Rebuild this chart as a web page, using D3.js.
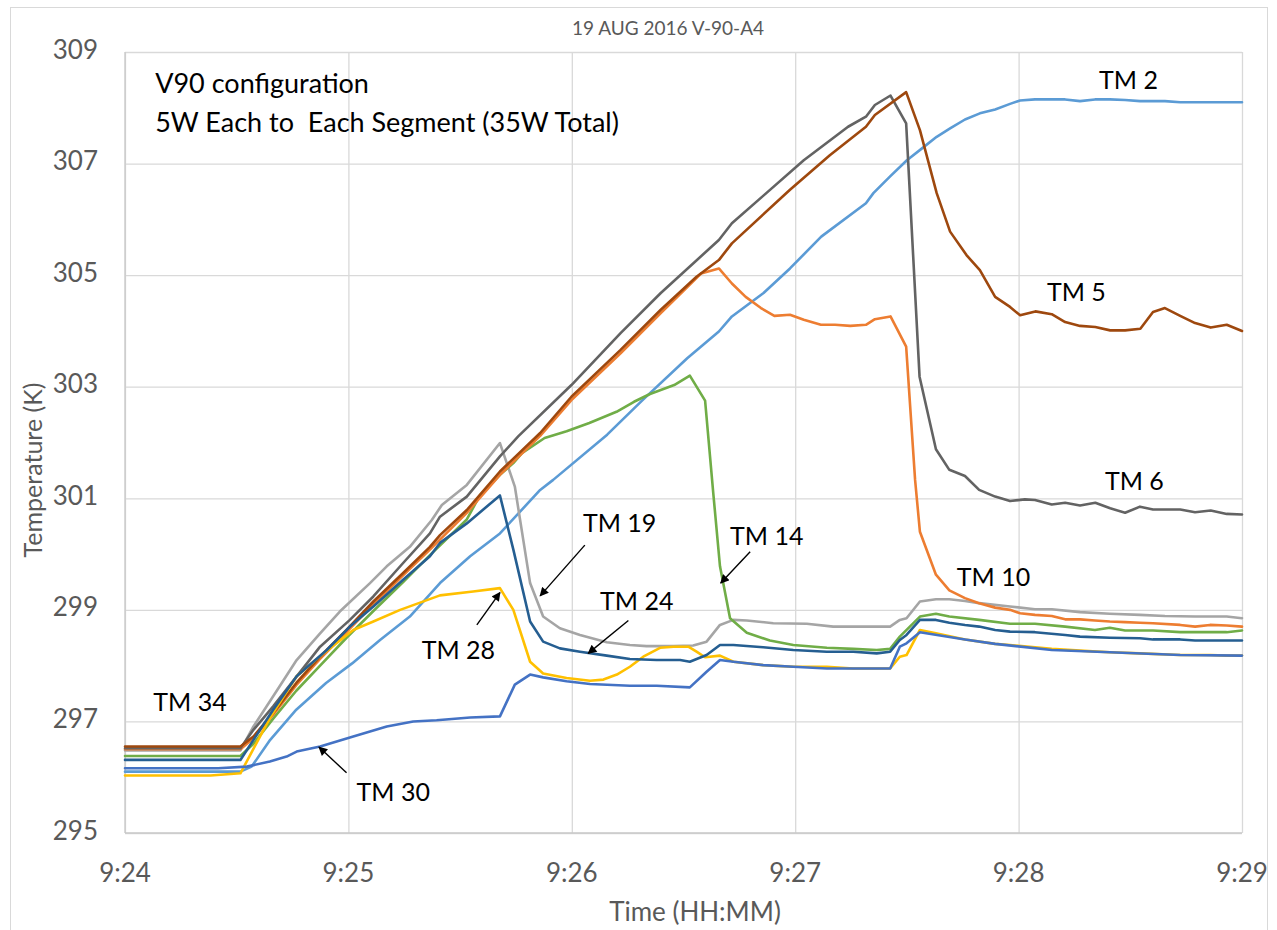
<!DOCTYPE html>
<html>
<head>
<meta charset="utf-8">
<script src="https://cdn.jsdelivr.net/npm/d3@7/dist/d3.min.js"></script>
<style>
  html, body { margin: 0; padding: 0; background: #ffffff; }
  svg { display: block; }
  text { font-family: Lato, "Open Sans", sans-serif; }
</style>
</head>
<body>
<svg id="chart" width="1277" height="930"></svg>
<script>
// ---------- data (time in seconds after 9:24:00, temperature in K) ----------
const chartTitle = "19 AUG 2016 V-90-A4";
const xAxisTitle = "Time (HH:MM)";
const yAxisTitle = "Temperature (K)";
const noteLines = ["V90 configuration", "5W Each to  Each Segment (35W Total)"];
const timeTickSeconds = [0, 60, 120, 180, 240, 300];
const timeTickLabels = ["9:24", "9:25", "9:26", "9:27", "9:28", "9:29"];
const tempTicks = [295, 297, 299, 301, 303, 305, 307, 309];

const seriesNames = ["TM 2", "TM 19", "TM 14", "TM 10", "TM 6", "TM 5", "TM 28", "TM 24", "TM 30"];
const seriesColors = ["#5B9BD5", "#A5A5A5", "#70AD47", "#ED7D31", "#636363", "#9E480E", "#FFC000", "#255E91", "#4472C4"];

const tm2 = [[0,296.10],[31,296.10],[34,296.19],[39,296.67],[46,297.21],[54,297.69],[61,298.04],[68.5,298.46],[76.5,298.88],[84.6,299.48],[92.7,299.96],[100.7,300.37],[111.5,301.15],[115,301.33],[129.5,302.14],[139,302.76],[151,303.51],[159.5,303.99],[163,304.26],[171.5,304.68],[178.6,305.12],[187,305.69],[199,306.29],[201,306.47],[205.5,306.77],[210,307.06],[214.4,307.29],[218,307.48],[221.6,307.63],[225.6,307.79],[229.6,307.90],[233.7,307.97],[237.7,308.07],[240.4,308.13],[244.4,308.15],[249,308.15],[252.5,308.15],[256.5,308.12],[260.5,308.15],[264.5,308.15],[268.6,308.14],[272.6,308.12],[276,308.12],[279.3,308.12],[283.4,308.10],[287.4,308.10],[291.4,308.10],[296,308.10],[300,308.10]];

const tm5 = [[0,296.55],[31,296.55],[34.5,296.73],[39.8,297.15],[46,297.69],[52.4,298.16],[59.5,298.64],[66.7,299.15],[74.7,299.66],[81.9,300.13],[84.6,300.34],[91.8,300.79],[100.7,301.48],[111.5,302.17],[119.9,302.82],[133.1,303.66],[143.9,304.38],[153.5,304.97],[159.5,305.27],[163,305.57],[178.6,306.53],[189.3,307.15],[199,307.66],[201.4,307.87],[209.8,308.28],[213.5,307.60],[218,306.47],[221.6,305.78],[226,305.36],[229.6,305.09],[233.7,304.61],[237.7,304.43],[240.4,304.28],[244.5,304.35],[248.9,304.30],[252.5,304.16],[256.5,304.09],[260.6,304.07],[264.6,304.01],[268.6,304.01],[272.7,304.04],[276.1,304.34],[279.3,304.41],[283.4,304.27],[287.4,304.14],[291.6,304.06],[295.9,304.11],[300,304.00]];

const tm6 = [[0,296.52],[31,296.52],[34.5,296.85],[39.8,297.27],[52.4,298.34],[60.4,298.82],[66.7,299.24],[74.7,299.84],[81.9,300.37],[84.6,300.67],[91.8,301.03],[100.7,301.75],[105.6,302.11],[119.9,303.03],[133.1,303.96],[143.9,304.68],[159.5,305.63],[163,305.93],[182.3,307.06],[194.2,307.66],[199,307.84],[201.4,308.05],[205.6,308.22],[209.8,307.72],[213.4,303.18],[217.8,301.88],[221.4,301.51],[225.6,301.40],[229.4,301.15],[233.7,301.03],[237.7,300.95],[241.7,300.98],[244.4,300.97],[248.9,300.89],[252.5,300.92],[256.5,300.87],[260.6,300.92],[264.6,300.82],[268.6,300.74],[272.6,300.85],[276.1,300.80],[283.4,300.80],[287.4,300.75],[291.6,300.78],[295.9,300.72],[300,300.71]];

const tm10 = [[0,296.50],[31,296.50],[34.5,296.70],[39.8,297.12],[46,297.65],[52.4,298.12],[59.5,298.60],[66.7,299.10],[74.7,299.62],[81.9,300.08],[91.8,300.74],[100.7,301.42],[111.5,302.12],[119.9,302.76],[133.1,303.60],[143.9,304.32],[150,304.72],[154.7,305.03],[159.5,305.12],[163,304.85],[166.7,304.61],[170.8,304.41],[174.4,304.27],[178.6,304.29],[182.3,304.20],[186.9,304.11],[190.7,304.11],[194.8,304.09],[199,304.11],[201.4,304.21],[205.6,304.26],[209.8,303.72],[212.2,301.33],[213.5,300.40],[217.8,299.63],[221.4,299.35],[225.6,299.21],[229.4,299.12],[233.7,299.04],[237.7,299.00],[240.4,298.94],[244.4,298.91],[248.9,298.89],[252.5,298.83],[256.5,298.83],[260.5,298.81],[264.5,298.79],[268.6,298.78],[272.6,298.77],[276.1,298.76],[283.4,298.73],[287.4,298.70],[291.4,298.73],[295.9,298.72],[300,298.70]];

const tm14 = [[0,296.38],[31,296.38],[34.5,296.60],[39.8,297.05],[46,297.55],[52.4,298.00],[59.5,298.50],[66.7,298.98],[74.7,299.50],[81.9,299.98],[91.8,300.62],[95.3,301.05],[100.7,301.42],[104.3,301.63],[106.6,301.81],[112.7,302.08],[118.6,302.20],[124.7,302.35],[132,302.55],[136.7,302.73],[141,302.87],[147.5,303.03],[151.7,303.20],[155.8,302.75],[158,301.09],[159.8,299.78],[162.5,298.85],[167,298.59],[173.2,298.45],[179.5,298.37],[188.5,298.32],[195.6,298.30],[201.9,298.28],[205.5,298.30],[208.1,298.52],[213.5,298.88],[217.8,298.93],[221.4,298.88],[229.4,298.82],[237.7,298.75],[244.4,298.75],[252.5,298.70],[260.5,298.64],[264.5,298.68],[268.6,298.63],[276.1,298.63],[283.4,298.60],[291.4,298.60],[295.9,298.60],[300,298.63]];

const tm19 = [[0,296.48],[31,296.48],[34.5,296.91],[39.8,297.45],[46.1,298.10],[52.4,298.58],[57.7,298.97],[65.8,299.48],[70.3,299.78],[76.5,300.13],[82.4,300.61],[85.1,300.88],[91.8,301.24],[100.7,301.99],[104.7,301.21],[108.8,299.48],[112.3,298.88],[116.8,298.67],[122.2,298.55],[129.4,298.42],[135.6,298.37],[140.1,298.35],[147.3,298.35],[152.6,298.36],[156.2,298.43],[159.8,298.73],[163.4,298.82],[167,298.81],[174.1,298.76],[183.1,298.75],[190.2,298.70],[195.6,298.70],[205.5,298.70],[208.1,298.82],[209.9,298.85],[213.5,299.15],[217.8,299.19],[221.4,299.19],[225.6,299.16],[229.4,299.12],[237.7,299.06],[244.4,299.01],[248.9,299.01],[256.5,298.96],[264.5,298.93],[272.6,298.91],[279.3,298.89],[287.4,298.88],[295.9,298.88],[300,298.85]];

const tm24 = [[0,296.31],[31,296.31],[34.5,296.67],[39.8,297.21],[46.1,297.81],[54.2,298.28],[60.4,298.70],[66.7,299.06],[74.7,299.54],[81.9,299.96],[84.6,300.20],[91.8,300.55],[100.7,301.05],[104.3,300.08],[108.8,298.79],[112.3,298.43],[116.8,298.31],[122.2,298.25],[129.4,298.18],[135.6,298.12],[142.8,298.10],[149.1,298.10],[151.7,298.07],[156.2,298.19],[159.8,298.37],[163.4,298.37],[171.4,298.33],[179.5,298.28],[188.5,298.25],[195.6,298.25],[201.9,298.22],[205.5,298.25],[208.1,298.46],[209.9,298.55],[213.5,298.82],[217.8,298.82],[221.4,298.77],[225.6,298.73],[229.4,298.70],[233.7,298.64],[237.7,298.61],[244.4,298.60],[252.5,298.55],[256.5,298.52],[264.5,298.50],[272.6,298.49],[276.1,298.47],[283.4,298.47],[287.4,298.45],[295.9,298.45],[300,298.45]];

const tm28 = [[0,296.03],[23,296.03],[31,296.07],[38.9,297.06],[46.1,297.81],[53.3,298.22],[61.3,298.64],[66.7,298.79],[73.9,299.00],[84.6,299.26],[93.5,299.33],[100.7,299.39],[104.3,299.00],[108.8,298.07],[112.3,297.86],[118.6,297.78],[124.9,297.73],[128.5,297.75],[132.1,297.84],[135.6,297.98],[139.2,298.16],[143.7,298.32],[147.3,298.34],[151.3,298.34],[153.5,298.25],[155.8,298.15],[159.8,298.18],[163.4,298.07],[171.4,298.01],[179.5,297.98],[188.5,297.98],[195.6,297.95],[205.5,297.95],[208.1,298.16],[209.9,298.19],[213.5,298.64],[217.8,298.58],[225.6,298.47],[233.7,298.39],[237.7,298.37],[248.9,298.30],[256.5,298.27],[264.5,298.24],[272.6,298.22],[283.4,298.19],[291.4,298.19],[295.9,298.18],[300,298.18]];

const tm30 = [[0,296.16],[25,296.16],[32.7,296.19],[38.9,296.28],[43.4,296.37],[46.1,296.46],[52.4,296.55],[61.3,296.73],[70.3,296.91],[77.4,297.00],[83.7,297.02],[92.7,297.07],[100.7,297.09],[104.7,297.66],[108.8,297.84],[112.3,297.79],[118.6,297.72],[124.9,297.67],[135.6,297.64],[142.8,297.64],[151.7,297.61],[156.2,297.89],[159.8,298.10],[163.4,298.07],[171.4,298.01],[179.5,297.98],[188.5,297.95],[195.6,297.95],[205.5,297.95],[208.1,298.34],[209.9,298.40],[213.5,298.60],[225.6,298.47],[233.7,298.39],[248.9,298.28],[264.5,298.24],[283.4,298.19],[300,298.18]];

const seriesData = [tm2, tm19, tm14, tm10, tm6, tm5, tm28, tm24, tm30];

// label anchors in data space
const labelTexts = ["TM 2", "TM 5", "TM 6", "TM 10", "TM 14", "TM 19", "TM 24", "TM 28", "TM 30", "TM 34"];
const labelSeconds = [261.6, 247.6, 263.2, 223.4, 162.5, 123.0, 127.6, 79.7, 62.2, 7.6];
const labelKelvin = [308.34, 304.54, 301.15, 299.43, 300.16, 300.40, 299.00, 298.12, 295.58, 297.19];
// arrows: [seconds, kelvin]
const arrowFrom = [[123.5, 300.16], [167.9, 300.04], [135.2, 298.81], [94.5, 298.73], [59.5, 296.08]];
const arrowTo = [[111.5, 299.25], [160.0, 299.48], [124.4, 298.22], [100.7, 299.31], [52.1, 296.54]];

// ---------- drawing ----------
const svg = d3.select("#chart");
const margin = { left: 125, right: 1277 - 1242, top: 52, bottom: 930 - 833 };
const W = 1277, H = 930;
const x = d3.scaleLinear().domain([0, 300]).range([margin.left, W - margin.right]);
const y = d3.scaleLinear().domain([295, 309]).range([H - margin.bottom, margin.top]);

// chart border
svg.append("rect").attr("x", 10.5).attr("y", 7.5).attr("width", 1257).attr("height", 940)
  .attr("fill", "none").attr("stroke", "#D9D9D9").attr("stroke-width", 1);

// gridlines
const gridColor = "#D9D9D9";
svg.append("g").attr("transform", `translate(0,${y(295)})`)
  .call(d3.axisBottom(x).tickValues(timeTickSeconds).tickSize(-(y(295) - y(309))).tickFormat(""))
  .call(g => g.select(".domain").remove())
  .call(g => g.selectAll("line").attr("stroke", gridColor).attr("stroke-width", 1.3));
svg.append("g").attr("transform", `translate(${x(0)},0)`)
  .call(d3.axisLeft(y).tickValues(tempTicks).tickSize(-(x(300) - x(0))).tickFormat(""))
  .call(g => g.select(".domain").remove())
  .call(g => g.selectAll("line").attr("stroke", gridColor).attr("stroke-width", 1.3));

// axis borders
svg.append("line").attr("x1", x(0)).attr("x2", x(300)).attr("y1", y(295)).attr("y2", y(295))
  .attr("stroke", "#C8C8C8").attr("stroke-width", 1.3);
svg.append("line").attr("x1", x(0)).attr("x2", x(0)).attr("y1", y(295)).attr("y2", y(309))
  .attr("stroke", "#C8C8C8").attr("stroke-width", 1.3);

// tick labels
const axisColor = "#595959";
svg.append("g").selectAll("text").data(tempTicks).join("text")
  .attr("x", x(0) - 27).attr("y", d => y(d) + 6.5)
  .attr("text-anchor", "end").attr("font-size", 26).attr("fill", axisColor)
  .text(d => d);
svg.append("g").selectAll("text").data(timeTickSeconds).join("text")
  .attr("x", d => x(d)).attr("y", 882)
  .attr("text-anchor", "middle").attr("font-size", 26).attr("fill", axisColor)
  .text((d, i) => timeTickLabels[i]);

// axis titles & chart title
svg.append("text").attr("x", 695).attr("y", 921).attr("text-anchor", "middle")
  .attr("font-size", 26).attr("fill", axisColor).text(xAxisTitle);
svg.append("text").attr("transform", "translate(42,470) rotate(-90)").attr("text-anchor", "middle")
  .attr("font-size", 25).attr("fill", axisColor).text(yAxisTitle);
svg.append("text").attr("x", 668).attr("y", 35).attr("text-anchor", "middle")
  .attr("font-size", 19).attr("fill", axisColor).text(chartTitle);

// series lines
const line = d3.line().x(d => x(d[0])).y(d => y(d[1]));
svg.append("g").selectAll("path").data(seriesData).join("path")
  .attr("d", line)
  .attr("fill", "none")
  .attr("stroke", (d, i) => seriesColors[i])
  .attr("stroke-width", 2.6)
  .attr("stroke-linejoin", "round")
  .attr("stroke-linecap", "round");

// note text
svg.append("g").selectAll("text").data(noteLines).join("text")
  .attr("x", x(8.1)).attr("y", (d, i) => i === 0 ? y(308.26) : y(307.57))
  .attr("font-size", 27).attr("fill", "#000")
  .style("white-space", "pre")
  .text(d => d);

// series labels
svg.append("g").selectAll("text").data(labelTexts).join("text")
  .attr("x", (d, i) => x(labelSeconds[i])).attr("y", (d, i) => y(labelKelvin[i]))
  .attr("font-size", 25).attr("fill", "#000")
  .text(d => d);

// arrows
const defs = svg.append("defs");
defs.append("marker").attr("id", "arrowhead").attr("viewBox", "0 0 10 10")
  .attr("refX", 9).attr("refY", 5).attr("markerWidth", 10).attr("markerHeight", 9)
  .attr("markerUnits", "userSpaceOnUse").attr("orient", "auto")
  .append("path").attr("d", "M0,0 L10,5 L0,10 Z").attr("fill", "#000");
svg.append("g").selectAll("line").data(arrowFrom).join("line")
  .attr("x1", d => x(d[0])).attr("y1", d => y(d[1]))
  .attr("x2", (d, i) => x(arrowTo[i][0])).attr("y2", (d, i) => y(arrowTo[i][1]))
  .attr("stroke", "#000").attr("stroke-width", 1.4)
  .attr("marker-end", "url(#arrowhead)");
</script>
</body>
</html>
